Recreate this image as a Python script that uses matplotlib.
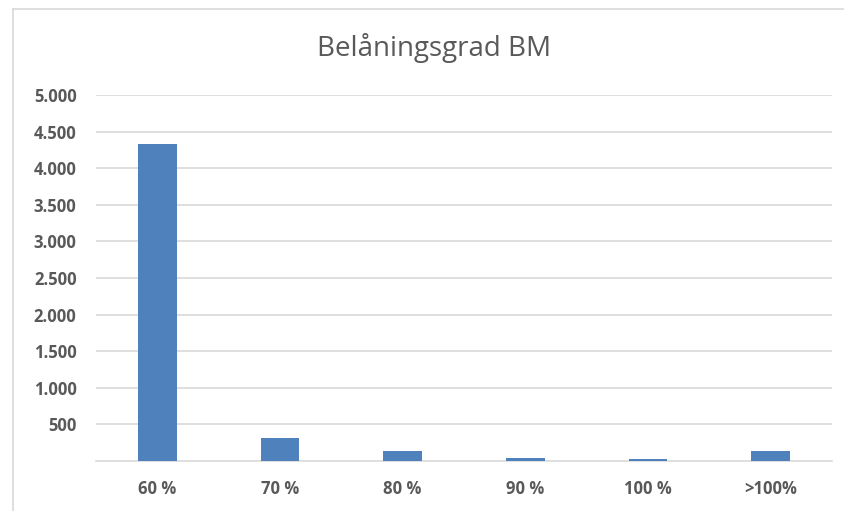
import matplotlib.pyplot as plt
from matplotlib.lines import Line2D
from matplotlib.ticker import FuncFormatter

# Data
categories = ["60 %", "70 %", "80 %", "90 %", "100 %", ">100%"]
values = [4330, 310, 142, 45, 25, 142]
yticks = [500, 1000, 1500, 2000, 2500, 3000, 3500, 4000, 4500, 5000]

fig = plt.figure(figsize=(8.44, 5.11), dpi=100)
ax = fig.add_axes([96 / 844, 1 - 461 / 511, 736 / 844, 366 / 511])

x = range(len(categories))
ax.bar(x, values, width=0.315, color="#4f81bd", zorder=3)

ax.set_xlim(-0.5, len(categories) - 0.5)
ax.set_ylim(0, 5000)
ax.set_yticks(yticks)
ax.yaxis.set_major_formatter(FuncFormatter(lambda v, p: f"{int(v):,}".replace(",", ".")))
ax.set_xticks(list(x))
ax.set_xticklabels(categories)

ax.grid(axis="y", color="#d9d9d9", linewidth=1.2, zorder=0)
for s in ["top", "right", "left"]:
    ax.spines[s].set_visible(False)
ax.spines["bottom"].set_color("#d9d9d9")
ax.spines["bottom"].set_linewidth(1.2)
ax.tick_params(length=0)
ax.tick_params(axis="y", pad=14)
ax.tick_params(axis="x", pad=14)
for lbl in ax.get_xticklabels() + ax.get_yticklabels():
    lbl.set_fontfamily("Open Sans")
    lbl.set_fontweight("bold")
    lbl.set_fontsize(12)
    lbl.set_color("#595959")

fig.text(0.514, 1 - 48 / 511, "Belåningsgrad BM", ha="center", va="center",
         fontsize=20, color="#595959", family="Open Sans")

# chart frame (partially cropped)
fx = 13.5 / 844
fy = 1 - 9.5 / 511
fig.add_artist(Line2D([fx, fx], [0, fy], color="#d9d9d9", linewidth=1.2))
fig.add_artist(Line2D([fx, 1], [fy, fy], color="#d9d9d9", linewidth=1.2))

fig.savefig("out.png", dpi=100)
